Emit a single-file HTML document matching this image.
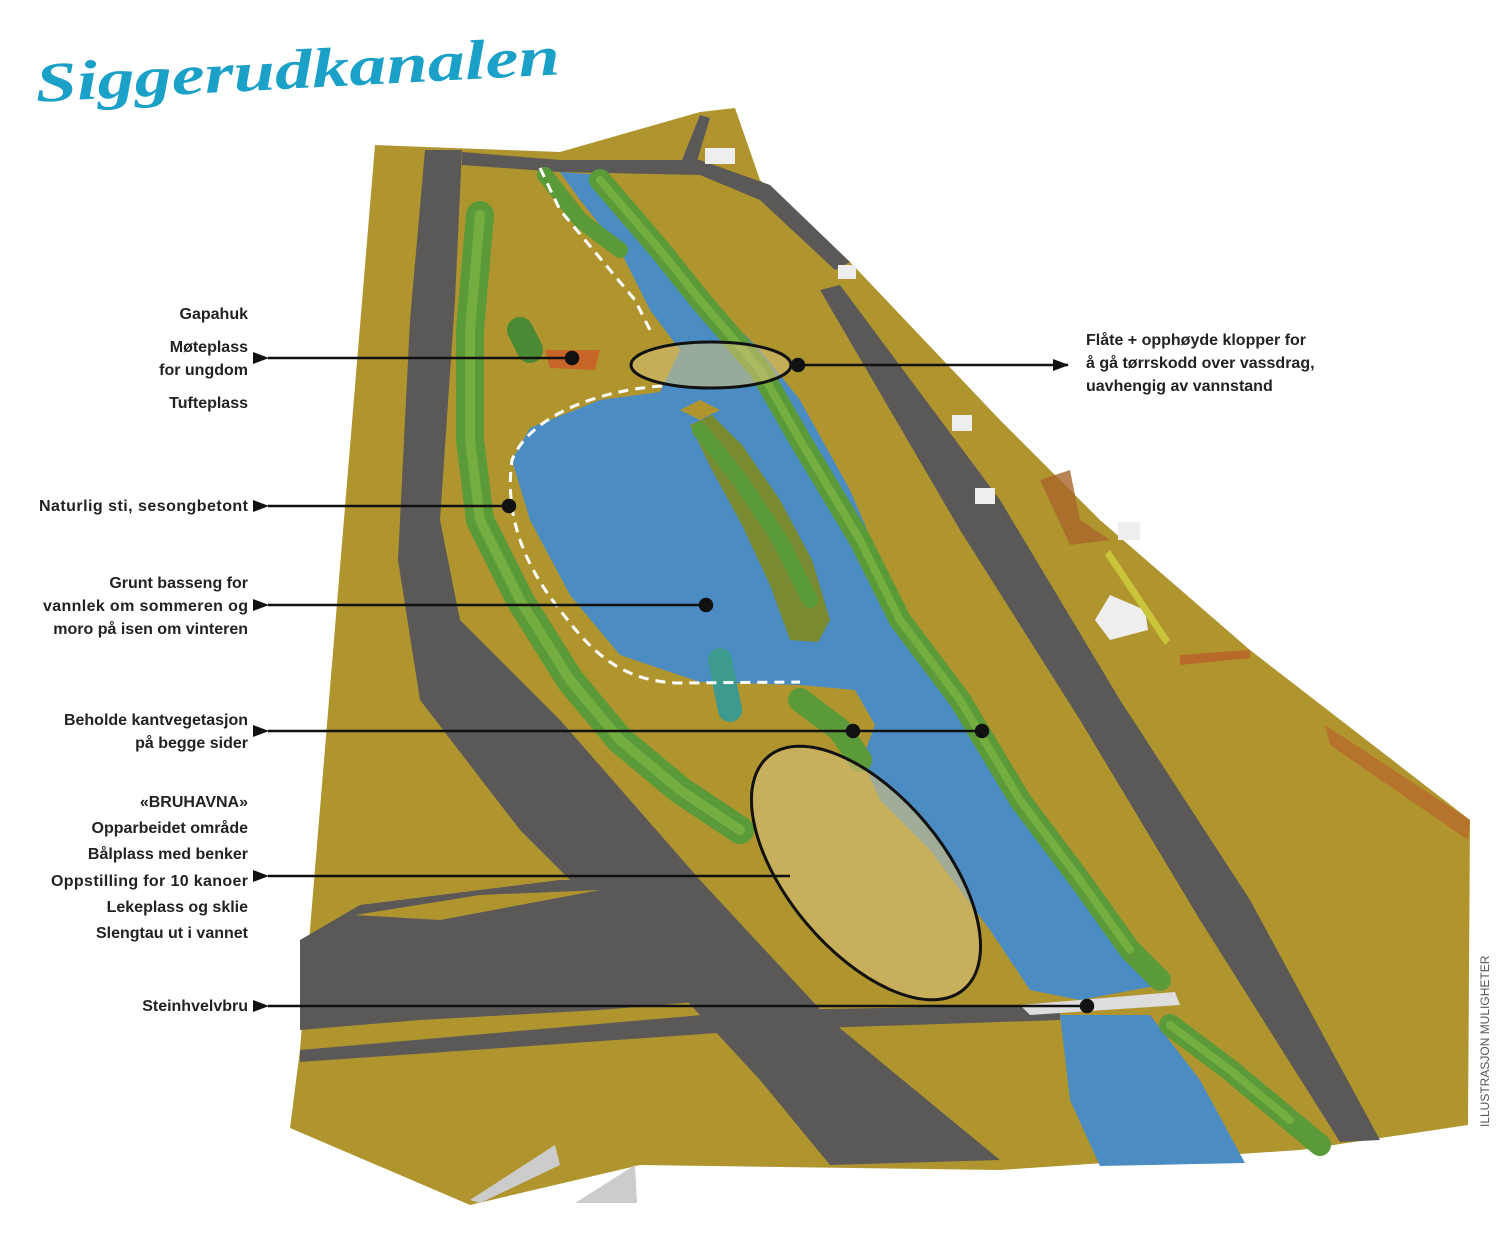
<!DOCTYPE html>
<html><head><meta charset="utf-8"><style>
html,body{margin:0;padding:0;background:#fff;}
svg{display:block;}
.l{font-family:"Liberation Sans",sans-serif;font-size:16px;font-weight:bold;fill:#222;}
</style></head><body>
<svg width="1510" height="1258" viewBox="0 0 1510 1258" xmlns="http://www.w3.org/2000/svg">
<defs>
<marker id="a" markerWidth="16" markerHeight="12" refX="1" refY="6" orient="auto" markerUnits="userSpaceOnUse">
<path d="M16,0 L0,6 L16,12 Z" fill="#111"/></marker>
<marker id="b" markerWidth="16" markerHeight="12" refX="15" refY="6" orient="auto" markerUnits="userSpaceOnUse">
<path d="M0,0 L16,6 L0,12 Z" fill="#111"/></marker>
</defs>
<!-- title -->
<text x="35" y="88" textLength="525" lengthAdjust="spacingAndGlyphs" font-family="Liberation Serif,serif" font-style="italic" font-weight="bold" font-size="56" fill="#1ba0c8" transform="rotate(-3 300 70)">Siggerudkanalen</text>
<!-- ground -->
<path d="M375,145 L560,152 L700,112 L735,108 L760,180 L850,262 L1000,420 L1100,520 L1250,650 L1470,820 L1468,1125 L1300,1150 L1000,1170 L640,1165 L470,1205 L290,1128 L300,1050 Z" fill="#b0952f"/>
<!-- roads -->
<path d="M425,150 L462,150 L455,300 L440,520 L460,620 L560,720 L700,880 L830,1020 L1000,1160 L830,1165 L760,1080 L640,950 L520,830 L420,700 L398,560 L410,320 Z" fill="#5a5958"/>
<path d="M300,940 L360,905 L560,880 L700,880 L760,960 L720,1000 L600,1010 L420,1020 L300,1030 Z" fill="#5a5958"/>
<path d="M355,915 L480,895 L600,890 L440,920 Z" fill="#b0952f"/>
<path d="M300,1050 L760,1010 L1060,1005 L1060,1020 L760,1030 L300,1062 Z" fill="#5a5958"/>
<path d="M820,290 L840,285 L1000,500 L1120,700 L1250,900 L1380,1140 L1340,1142 L1200,920 L1080,720 L960,530 Z" fill="#5a5958"/>
<path d="M462,152 L560,160 L700,160 L770,185 L850,262 L835,270 L760,200 L700,175 L560,172 L462,165 Z" fill="#5a5958"/>
<path d="M680,165 L700,115 L710,118 L695,168 Z" fill="#5a5958"/>
<!-- water -->
<path d="M560,172 L600,175 L650,230 L700,290 L760,350 L800,400 L850,490 L880,560 L910,630 L960,700 L1020,790 L1080,870 L1130,940 L1160,985 L1080,1000 L1030,990 L990,930 L930,850 L880,800 L862,760 L875,725 L855,690 L800,685 L700,682 L620,655 L570,595 L530,520 L512,460 L530,428 L600,400 L660,392 L680,350 L650,310 L620,250 L580,200 Z" fill="#4b8cc2"/>
<path d="M1060,1015 L1150,1015 L1200,1080 L1245,1163 L1100,1166 L1070,1100 Z" fill="#4b8cc2"/>
<!-- island -->
<path d="M690,425 L712,415 L742,445 L780,500 L812,560 L830,620 L818,642 L790,640 L770,585 L742,525 L712,470 Z" fill="#7a8a30"/>
<path d="M680,410 L700,400 L720,410 L700,420 Z" fill="#b0952f"/>
<!-- vegetation -->
<g fill="none" stroke-linecap="round" stroke-linejoin="round">
<path d="M480,215 L470,330 L470,440 L480,520 L520,600 L570,680 L620,740 L680,790 L740,830" stroke="#5a9a38" stroke-width="28"/>
<path d="M480,215 L470,330 L470,440 L480,520 L520,600 L570,680 L620,740 L680,790 L740,830" stroke="#86bd48" stroke-width="10" opacity="0.6"/>
<path d="M600,180 L660,250 L700,300 L760,370 L800,440 L860,540 L900,620 L960,700 L1020,800 L1080,880 L1130,950 L1160,980" stroke="#5a9a38" stroke-width="22"/>
<path d="M600,180 L660,250 L700,300 L760,370 L800,440 L860,540 L900,620 L960,700 L1020,800 L1080,880 L1130,950" stroke="#86bd48" stroke-width="8" opacity="0.6"/>
<path d="M545,175 L580,220 L620,250" stroke="#5a9a38" stroke-width="16"/>
<path d="M700,430 L740,480 L780,540 L810,600" stroke="#5a9a38" stroke-width="16"/>
<path d="M800,700 L840,730 L860,760" stroke="#5a9a38" stroke-width="24"/>
<path d="M1170,1025 L1230,1070 L1290,1120 L1320,1145" stroke="#5a9a38" stroke-width="22"/>
<path d="M1170,1025 L1230,1070 L1290,1120" stroke="#86bd48" stroke-width="8" opacity="0.6"/>
<path d="M520,330 L530,350" stroke="#4a8a34" stroke-width="26"/>
<path d="M720,660 L730,710" stroke="#3d9a8f" stroke-width="24"/>
</g>
<!-- houses / details -->
<rect x="705" y="148" width="30" height="16" fill="#eee"/>
<rect x="838" y="265" width="18" height="14" fill="#eee"/>
<rect x="952" y="415" width="20" height="16" fill="#eee"/>
<rect x="975" y="488" width="20" height="16" fill="#eee"/>
<path d="M1095,620 L1110,595 L1145,610 L1148,630 L1110,640 Z" fill="#eee"/>
<rect x="1118" y="522" width="22" height="18" fill="#eee"/>
<path d="M545,350 L600,350 L595,370 L550,368 Z" fill="#c8662a"/>
<path d="M1040,480 L1070,470 L1080,520 L1110,540 L1070,545 Z" fill="#a8652a" opacity="0.8"/>
<path d="M1325,725 L1470,820 L1468,840 L1330,745 Z" fill="#b86a2a" opacity="0.8"/>
<path d="M1180,655 L1250,650 L1250,658 L1180,665 Z" fill="#b86a2a"/>
<path d="M1110,550 L1170,640 L1165,645 L1105,555 Z" fill="#c9c43a"/>
<path d="M1020,1005 L1175,992 L1180,1005 L1030,1015 Z" fill="#ddd"/>
<path d="M470,1200 L555,1145 L560,1165 L480,1203 Z" fill="#ccc"/>
<path d="M575,1203 L635,1165 L637,1203 Z" fill="#ccc"/>
<!-- dashed path -->
<path d="M540,168 L560,210 L600,258 L635,300 L650,330 M662,386 C600,390 530,415 512,460 C505,510 520,560 560,610 C590,650 620,682 680,683 L800,682" fill="none" stroke="#fff" stroke-width="3" stroke-dasharray="10 7"/>
<!-- ellipses -->
<ellipse cx="711" cy="365" rx="80" ry="23" fill="#d8c27a" fill-opacity="0.55" stroke="#111" stroke-width="3"/>
<ellipse cx="866" cy="873" rx="152" ry="78" transform="rotate(50 866 873)" fill="#d8c27a" fill-opacity="0.6" stroke="#111" stroke-width="3"/>
<!-- leaders -->
<g stroke="#111" stroke-width="2.5" fill="#111">
<line x1="572" y1="358" x2="268" y2="358" marker-end="url(#a)"/><circle cx="572" cy="358" r="6"/>
<line x1="798" y1="365" x2="1068" y2="365" marker-end="url(#b)"/><circle cx="798" cy="365" r="6"/>
<line x1="509" y1="506" x2="268" y2="506" marker-end="url(#a)"/><circle cx="509" cy="506" r="6"/>
<line x1="706" y1="605" x2="268" y2="605" marker-end="url(#a)"/><circle cx="706" cy="605" r="6"/>
<line x1="982" y1="731" x2="268" y2="731" marker-end="url(#a)"/><circle cx="853" cy="731" r="6"/><circle cx="982" cy="731" r="6"/>
<line x1="790" y1="876" x2="268" y2="876" marker-end="url(#a)"/>
<line x1="1087" y1="1006" x2="268" y2="1006" marker-end="url(#a)"/><circle cx="1087" cy="1006" r="6"/>
</g>
<!-- labels -->
<g class="l" text-anchor="end">
<text x="248" y="319">Gapahuk</text>
<text x="248" y="352">Møteplass</text>
<text x="248" y="375">for ungdom</text>
<text x="248" y="408">Tufteplass</text>
<text x="248" y="511" textLength="209">Naturlig sti, sesongbetont</text>
<text x="248" y="588">Grunt basseng for</text>
<text x="248" y="611" textLength="205">vannlek om sommeren og</text>
<text x="248" y="634">moro på isen om vinteren</text>
<text x="248" y="725">Beholde kantvegetasjon</text>
<text x="248" y="748">på begge sider</text>
<text x="248" y="807">«BRUHAVNA»</text>
<text x="248" y="833">Opparbeidet område</text>
<text x="248" y="859">Bålplass med benker</text>
<text x="248" y="886" textLength="197">Oppstilling for 10 kanoer</text>
<text x="248" y="912">Lekeplass og sklie</text>
<text x="248" y="938">Slengtau ut i vannet</text>
<text x="248" y="1011">Steinhvelvbru</text>
</g>
<g class="l">
<text x="1086" y="345">Flåte + opphøyde klopper for</text>
<text x="1086" y="368">å gå tørrskodd over vassdrag,</text>
<text x="1086" y="391">uavhengig av vannstand</text>
</g>
<text x="1489" y="1127" transform="rotate(-90 1489 1127)" font-family="Liberation Sans,sans-serif" font-size="12" fill="#555">ILLUSTRASJON MULIGHETER</text>
</svg>
</body></html>
